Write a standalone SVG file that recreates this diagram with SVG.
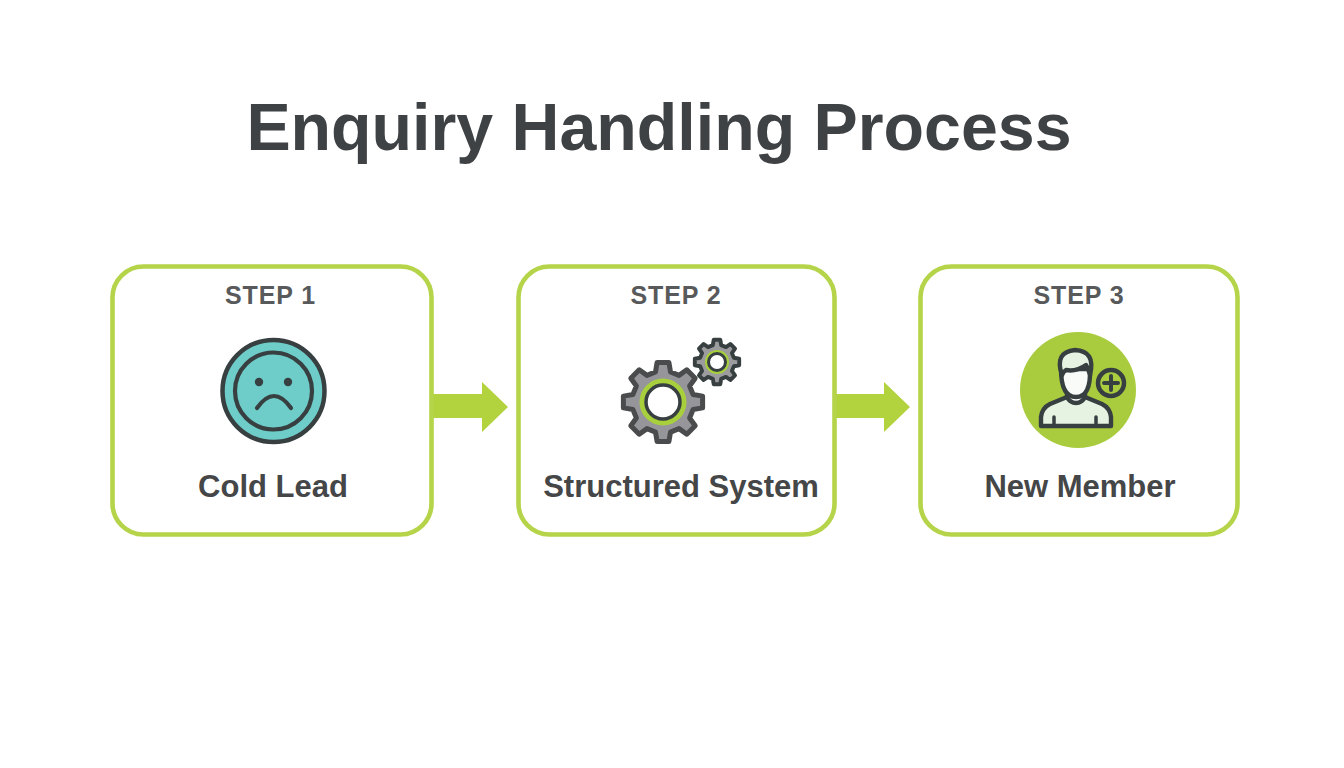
<svg xmlns="http://www.w3.org/2000/svg" width="1344" height="768" viewBox="0 0 1344 768">
<style>
text{font-family:"Liberation Sans",Arial,sans-serif;font-weight:700;text-anchor:middle}
.title{font-size:66.300px;fill:#3f4244}
.step{font-size:25px;fill:#58595b;letter-spacing:.9px}
.name{font-size:31px;fill:#454648}
.box{fill:#fff;stroke:#b5d44a;stroke-width:4.600}
.ink{stroke:#373f41;stroke-linecap:round;stroke-linejoin:round}
.arrow{fill:#b2d23e}
</style>
<defs>
<path id="gear" d="M30.1,-7.5L39.6,-5.9L39.6,5.9L30.1,7.5L26.6,16L32.2,23.8L23.8,32.2L16,26.6L7.5,30.1L5.9,39.6L-5.9,39.6L-7.5,30.1L-16,26.6L-23.8,32.2L-32.2,23.8L-26.6,16L-30.1,7.5L-39.6,5.9L-39.6,-5.9L-30.1,-7.5L-26.6,-16L-32.2,-23.8L-23.8,-32.2L-16,-26.6L-7.5,-30.1L-5.9,-39.6L5.9,-39.6L7.5,-30.1L16,-26.6L23.8,-32.2L32.2,-23.8L26.6,-16Z"/>
</defs>
<rect width="1344" height="768" fill="#fff"/>
<text id="title" class="title" x="659" y="150">Enquiry Handling Process</text>
<g id="connectors">
<polygon class="arrow" points="432,394 482,394 482,382 508,407 482,432 482,418 432,418"/>
<polygon class="arrow" points="836,394 884,394 884,382 910,407 884,432 884,418 836,418"/>
</g>
<g id="node-1">
<rect class="box" x="112.500" y="266.500" width="319" height="268" rx="31"/>
<text class="step" x="270.500" y="304">STEP 1</text>
<circle class="ink" cx="273.500" cy="391" r="51" fill="#6ecdc9" stroke-width="4.500"/>
<circle class="ink" cx="273.500" cy="391" r="38.500" fill="#6ecdc9" stroke-width="4.200"/>
<circle cx="259" cy="382" r="4.200" fill="#373f41"/>
<circle cx="288" cy="382" r="4.200" fill="#373f41"/>
<path class="ink" d="M257,408Q274,384 291,408" fill="none" stroke-width="4.200"/>
<text class="name" x="273" y="497">Cold Lead</text>
</g>
<g id="node-2">
<rect class="box" x="518.500" y="266.500" width="316" height="268" rx="31"/>
<text class="step" x="676" y="304">STEP 2</text>
<use href="#gear" transform="translate(717,362) scale(.56)" fill="#9c9c9f" class="ink" stroke-width="7"/>
<circle cx="717" cy="362" r="12" fill="#a8cf3c"/>
<circle class="ink" cx="717" cy="362" r="8.500" fill="#fff" stroke-width="3"/>
<use href="#gear" transform="translate(663,402)" fill="#96969a" stroke="#4a4b4d" stroke-linejoin="round" stroke-width="5"/>
<circle cx="663" cy="402" r="23.500" fill="#a8cf3c"/>
<circle class="ink" cx="663" cy="402" r="17" fill="#fff" stroke-width="3.500"/>
<text class="name" x="681" y="497">Structured System</text>
</g>
<g id="node-3">
<rect class="box" x="920.500" y="266.500" width="317" height="268" rx="31"/>
<text class="step" x="1079" y="304">STEP 3</text>
<circle cx="1078" cy="390" r="58" fill="#a9cc3f"/>
<path class="ink" d="M1041,426V417Q1042,408 1050,404L1067,397H1085L1102,404Q1110,408 1111,417V426Z" fill="#e6f3e2" stroke-width="4.400"/>
<path class="ink" d="M1067,391V397Q1070,403 1076,403Q1082,403 1085,397V391Z" fill="#fff" stroke-width="4.400"/>
<path class="ink" d="M1061,369Q1061,397 1076,397Q1091,397 1090,369Z" fill="#f8fbf8" stroke-width="4.400"/>
<path class="ink" d="M1062,375Q1054,352 1075,350Q1096,351 1090,375Q1088,368 1086,365Q1076,372 1066,370Q1063,372 1062,375Z" fill="#e6f3e2" stroke-width="4.400"/>
<path class="ink" d="M1054,417V426M1096,417V426" fill="none" stroke-width="3.500"/>
<circle class="ink" cx="1111" cy="383" r="13" fill="#a9cc3f" stroke-width="4.500"/>
<path class="ink" d="M1111,376V390M1104,383H1118" fill="none" stroke-width="4"/>
<text class="name" x="1080" y="497">New Member</text>
</g>
</svg>
